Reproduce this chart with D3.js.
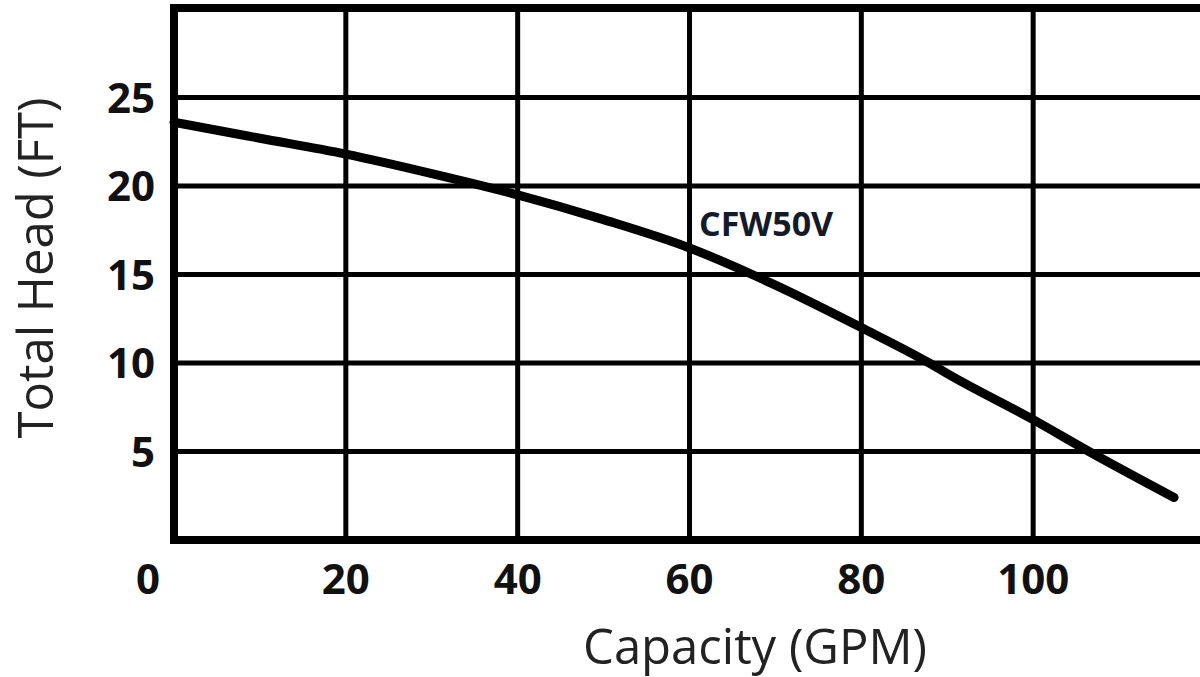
<!DOCTYPE html>
<html>
<head>
<meta charset="utf-8">
<script src="https://cdn.jsdelivr.net/npm/d3@7/dist/d3.min.js"></script>
<style>
  html, body { margin: 0; padding: 0; background: #fff; }
  svg { display: block; }
</style>
</head>
<body>
<script>
// ---- data ----
const capacityGPM = [0, 10, 20, 30, 40, 50, 60, 67.3, 70, 80, 87.9, 90, 100, 106.5, 116.4];
const totalHeadFT = [23.6, 22.7, 21.8, 20.7, 19.5, 18.1, 16.5, 15.0, 14.4, 12.0, 10.0, 9.4, 6.8, 5.0, 2.4];
const xTicks = [20, 40, 60, 80, 100];
const yTicks = [5, 10, 15, 20, 25];
const seriesName = "CFW50V";
const xTitle = "Capacity (GPM)";
const yTitle = "Total Head (FT)";

const W = 1200, H = 677;
const svg = d3.select("body").append("svg").attr("width", W).attr("height", H);

const x = d3.scaleLinear().domain([0, 120]).range([174, 1205]);
const y = d3.scaleLinear().domain([0, 30]).range([540, 9]);

const font = "'Open Sans', 'DejaVu Sans', sans-serif";

// grid lines
const g = svg.append("g");
g.selectAll("line.v").data(xTicks).join("line")
  .attr("x1", d => x(d)).attr("x2", d => x(d))
  .attr("y1", y(30)).attr("y2", y(0))
  .attr("stroke", "#000").attr("stroke-width", 5);
g.selectAll("line.h").data(yTicks).join("line")
  .attr("y1", d => y(d)).attr("y2", d => y(d))
  .attr("x1", x(0)).attr("x2", x(120))
  .attr("stroke", "#000").attr("stroke-width", 5);

// frame
svg.append("rect")
  .attr("x", x(0)).attr("y", y(30) - 1)
  .attr("width", x(120) - x(0)).attr("height", y(0) - y(30) + 1)
  .attr("fill", "none").attr("stroke", "#000").attr("stroke-width", 8);

// curve
const line = d3.line()
  .x((d, i) => x(capacityGPM[i]))
  .y(d => y(d))
  .curve(d3.curveMonotoneX);
svg.append("path")
  .attr("d", line(totalHeadFT))
  .attr("fill", "none").attr("stroke", "#000")
  .attr("stroke-width", 9).attr("stroke-linecap", "round");

// y tick labels
svg.selectAll("text.yt").data(yTicks).join("text")
  .attr("x", 155).attr("y", d => y(d))
  .attr("dy", "0.36em")
  .attr("text-anchor", "end")
  .attr("font-family", font).attr("font-weight", 700).attr("font-size", 42)
  .attr("fill", "#111")
  .text(d => d);

// x tick labels
svg.selectAll("text.xt").data(xTicks).join("text")
  .attr("x", d => x(d)).attr("y", 594)
  .attr("text-anchor", "middle")
  .attr("font-family", font).attr("font-weight", 700).attr("font-size", 42)
  .attr("fill", "#111")
  .text(d => d);
svg.append("text")
  .attr("x", 148).attr("y", 594)
  .attr("text-anchor", "middle")
  .attr("font-family", font).attr("font-weight", 700).attr("font-size", 42)
  .attr("fill", "#111")
  .text(0);

// series label
svg.append("text")
  .attr("x", 699).attr("y", 236)
  .attr("font-family", font).attr("font-weight", 700).attr("font-size", 34)
  .attr("fill", "#151a28")
  .text(seriesName);

// axis titles
svg.append("text")
  .attr("x", 755).attr("y", 664)
  .attr("text-anchor", "middle")
  .attr("font-family", font).attr("font-size", 49)
  .attr("fill", "#222")
  .text(xTitle);
svg.append("text")
  .attr("transform", "translate(53,268) rotate(-90)")
  .attr("text-anchor", "middle")
  .attr("font-family", font).attr("font-size", 49)
  .attr("fill", "#222")
  .text(yTitle);
</script>
</body>
</html>
